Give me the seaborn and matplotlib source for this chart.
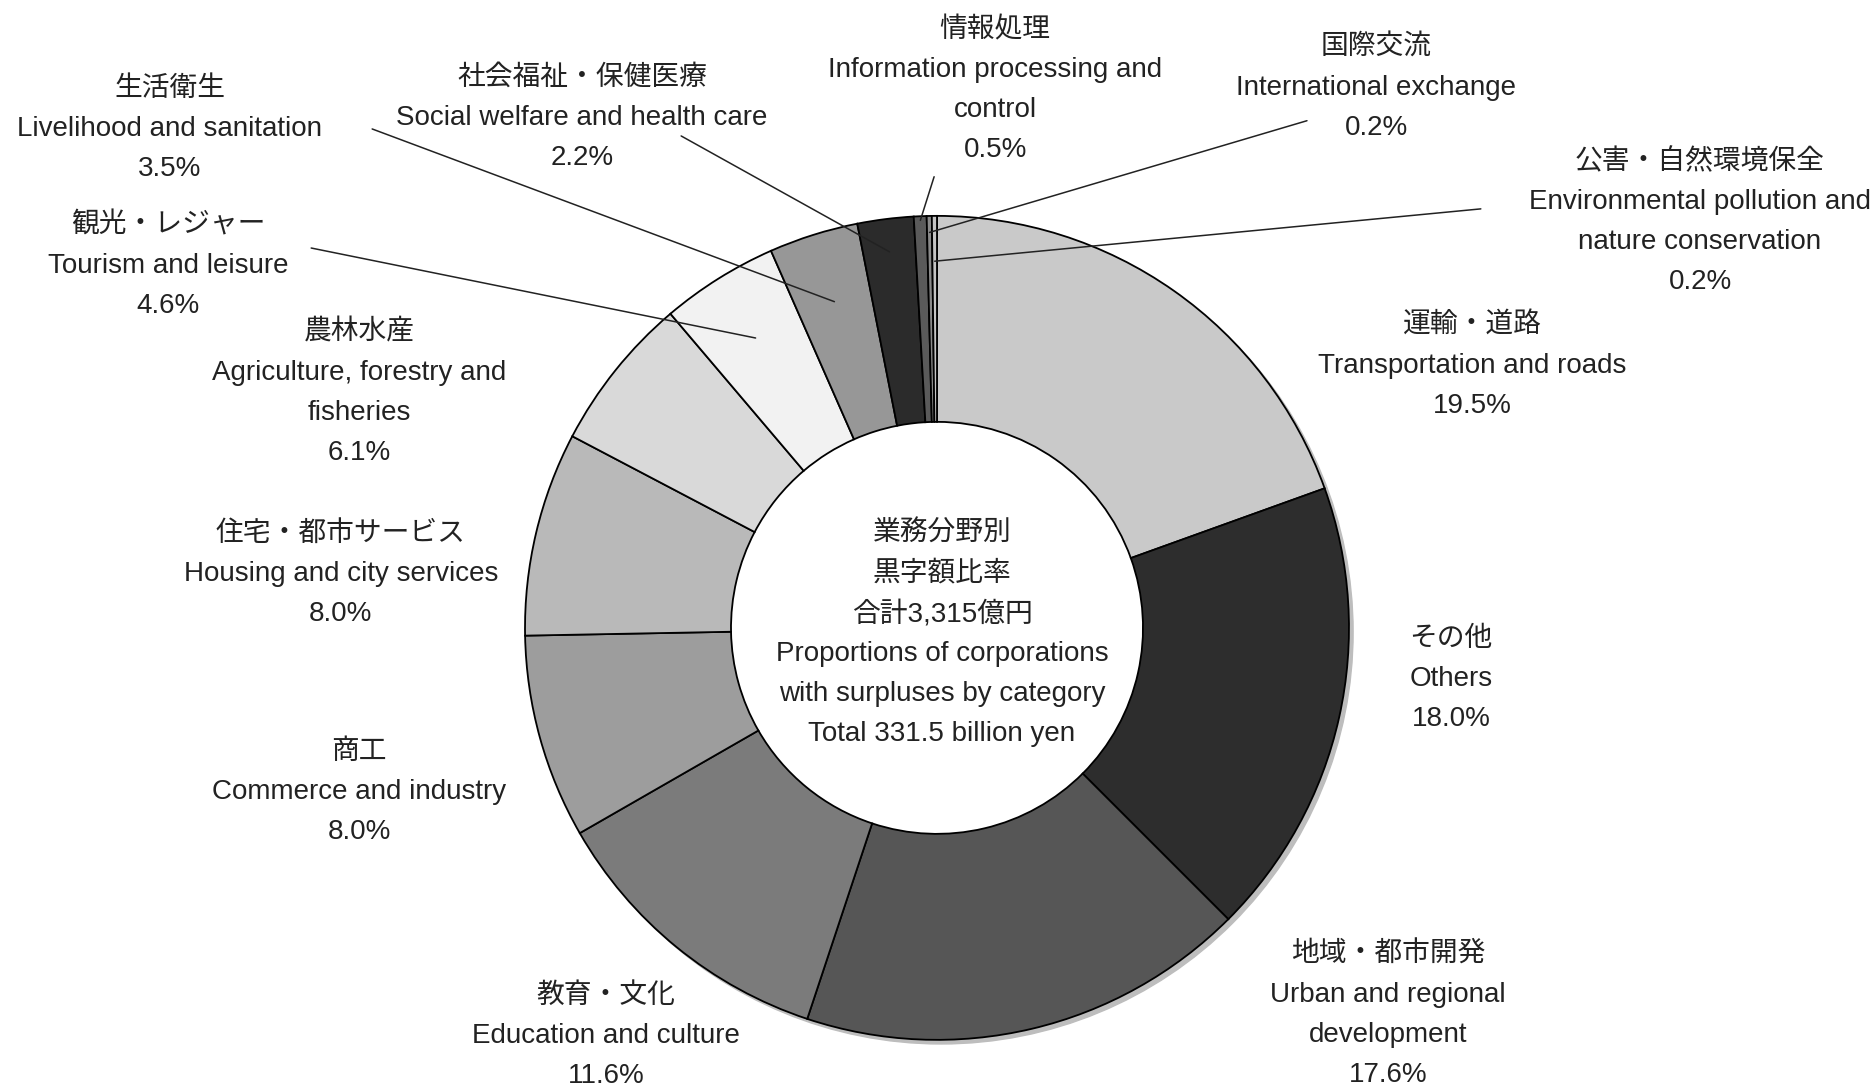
import numpy as np
import matplotlib.pyplot as plt
import seaborn as sns


OUTPUT_PATH = "out.png"


# Categories, clockwise from 12 o'clock
CATEGORIES_JP = [
    "運輸・道路", "その他", "地域・都市開発", "教育・文化", "商工",
    "住宅・都市サービス", "農林水産", "観光・レジャー", "生活衛生",
    "社会福祉・保健医療", "情報処理", "国際交流", "公害・自然環境保全",
]

CATEGORIES_EN = [
    "Transportation and roads",
    "Others",
    "Urban and regional\ndevelopment",
    "Education and culture",
    "Commerce and industry",
    "Housing and city services",
    "Agriculture, forestry and\nfisheries",
    "Tourism and leisure",
    "Livelihood and sanitation",
    "Social welfare and health care",
    "Information processing and\ncontrol",
    "International exchange",
    "Environmental pollution and\nnature conservation",
]

# Share of total surplus (%)
SHARES = [19.5, 18.0, 17.6, 11.6, 8.0, 8.0, 6.1, 4.6, 3.5, 2.2, 0.5, 0.2, 0.2]

GREYS = [
    "#c9c9c9", "#2d2d2d", "#565656", "#7b7b7b", "#9d9d9d",
    "#b9b9b9", "#d9d9d9", "#f2f2f2", "#979797", "#2b2b2b",
    "#5a5a5a", "#8a8a8a", "#c4c4c4",
]

CENTER_LINES = [
    "業務分野別",
    "黒字額比率",
    "合計3,315億円",
    "Proportions of corporations",
    "with surpluses by category",
    "Total 331.5 billion yen",
]

# Layout (pie radius = 1): first-line position of every label block
LABEL_POS = [
    (1.299, 0.733), (1.248, -0.027), (1.095, -0.794), (-0.803, -0.893),
    (-1.403, -0.301), (-1.447, 0.228), (-1.403, 0.716), (-1.867, 0.976),
    (-1.862, 1.308), (-0.862, 1.335), (0.141, 1.451), (1.066, 1.408),
    (1.852, 1.131),
]

# Leader lines: category index -> (start point, radius of end point)
LEADERS = {
    7: ((-1.519, 0.922), 0.83),
    8: ((-1.371, 1.211), 0.83),
    9: ((-0.621, 1.194), 0.92),
    10: ((-0.007, 1.095), 0.99),
    11: ((0.898, 1.231), 0.96),
    12: ((1.320, 1.017), 0.89),
}

FONTS = ["Liberation Sans", "Noto Sans CJK JP"]
FONT_SIZE = 20
TEXT_COLOR = "#222222"
LINE_STEP = 0.0971



def draw_block(ax, x, y, lines):

    for i, line in enumerate(lines):
        ax.text(
            x, y - i * LINE_STEP, line,
            ha="center", va="center",
            fontsize=FONT_SIZE, color=TEXT_COLOR, family=FONTS
        )



def plot_surplus_donut():

    sns.set_theme(style="white")
    plt.rcParams["font.family"] = FONTS

    fig = plt.figure(figsize=(18.74, 10.86), dpi=100)
    ax = fig.add_axes([0, 0, 1, 1])


    # Soft shadow and white hole behind the ring
    ax.add_patch(plt.Circle((0.01, -0.01), 1.0, color="#bdbdbd", zorder=0))
    ax.add_patch(plt.Circle((0, 0), 0.5, color="white", zorder=0.5))


    wedges, _ = ax.pie(
        SHARES,
        colors=GREYS,
        startangle=90,
        counterclock=False,
        radius=1,
        wedgeprops=dict(width=0.5, edgecolor="black", linewidth=1.3)
    )


    for i, (jp, en, share) in enumerate(zip(CATEGORIES_JP, CATEGORIES_EN, SHARES)):
        lines = [jp] + en.split("\n") + [f"{share:.1f}%"]
        draw_block(ax, LABEL_POS[i][0], LABEL_POS[i][1], lines)


    for i, (start, r) in LEADERS.items():
        w = wedges[i]
        mid = np.deg2rad((w.theta1 + w.theta2) / 2)
        ax.plot(
            [start[0], r * np.cos(mid)],
            [start[1], r * np.sin(mid)],
            color="#222222", linewidth=1.1, zorder=5
        )


    draw_block(ax, 0.012, 0.228, CENTER_LINES)


    ax.set_xlim(-2.274, 2.274)
    ax.set_ylim(-1.112, 1.524)
    ax.set_aspect("equal")
    ax.axis("off")


    fig.savefig(OUTPUT_PATH, dpi=100)



if __name__ == "__main__":

    plot_surplus_donut()
